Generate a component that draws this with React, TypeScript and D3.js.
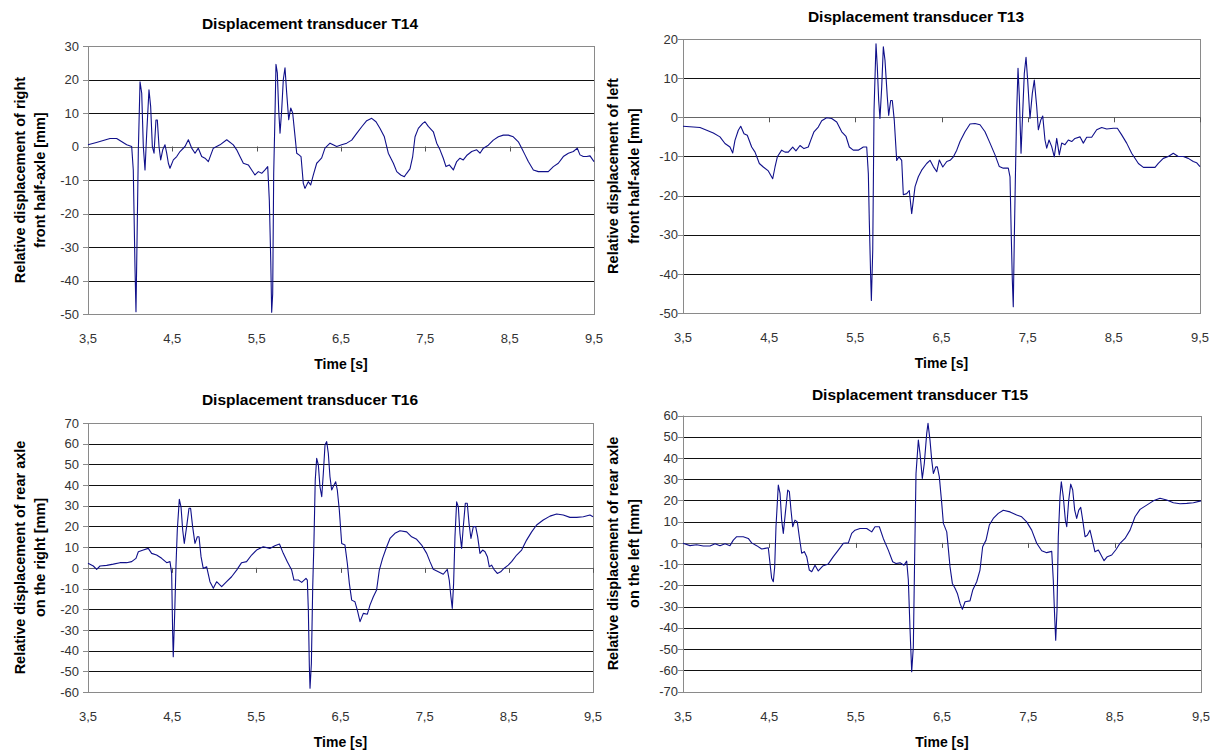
import React from 'react';
import * as d3 from 'd3';

// time axis shared by all four panels
const xTicks = [3.5, 4.5, 5.5, 6.5, 7.5, 8.5, 9.5];

const t14Ticks = [30, 20, 10, 0, -10, -20, -30, -40, -50];
const t13Ticks = [20, 10, 0, -10, -20, -30, -40, -50];
const t16Ticks = [70, 60, 50, 40, 30, 20, 10, 0, -10, -20, -30, -40, -50, -60];
const t15Ticks = [60, 50, 40, 30, 20, 10, 0, -10, -20, -30, -40, -50, -60, -70];

// [time s, displacement mm]
const t14: [number, number][] = [
  [3.5, 0.5], [3.6, 1.2], [3.761, 2.4], [3.84, 2.4], [3.959, 0.5], [4.018, 0], [4.037, -7], [4.057, -35.9],
  [4.069, -49.3], [4.085, -21.9], [4.097, -1], [4.117, 19.3], [4.137, 15.9], [4.156, 0], [4.176, -7],
  [4.196, 3.9], [4.223, 16.9], [4.243, 11.9], [4.263, 0], [4.283, -2], [4.306, 7.9], [4.322, 7.9],
  [4.342, 0], [4.362, -4], [4.386, -1], [4.413, 0.5], [4.433, -2], [4.453, -5], [4.472, -6.5],
  [4.512, -4], [4.552, -3], [4.591, -1.5], [4.65, 0], [4.69, 2], [4.73, -0.5], [4.769, -2], [4.808, -0.5],
  [4.848, -3], [4.887, -3.5], [4.927, -4.5], [4.986, -0.5], [5.065, 0.5], [5.145, 2], [5.223, 0.5],
  [5.263, -1], [5.302, -3], [5.342, -5], [5.401, -5.5], [5.441, -7], [5.48, -8.5], [5.52, -7.5],
  [5.56, -8], [5.599, -7], [5.631, -6], [5.65, -16], [5.667, -34], [5.678, -49.5], [5.69, -44],
  [5.702, -8], [5.717, 9], [5.729, 24.5], [5.745, 22], [5.761, 11], [5.777, 4], [5.797, 11], [5.816, 20],
  [5.836, 23.5], [5.856, 16], [5.88, 8], [5.904, 11.5], [5.927, 10], [5.951, 4], [5.975, -2],
  [6.002, -2.5], [6.026, -3], [6.053, -11], [6.073, -12.5], [6.112, -10.5], [6.14, -11.5], [6.172, -8.5],
  [6.212, -5], [6.231, -4.5], [6.271, -3.4], [6.31, -0.5], [6.37, 1], [6.449, 0], [6.508, 0.5],
  [6.568, 1], [6.627, 1.9], [6.686, 3.9], [6.746, 5.9], [6.805, 7.7], [6.864, 8.4], [6.915, 7.4],
  [6.963, 5.4], [7.014, 2.9], [7.061, -2], [7.121, -5], [7.161, -7.5], [7.208, -8.5], [7.251, -9],
  [7.279, -8], [7.318, -6.7], [7.35, -3], [7.378, 2.9], [7.417, 5.4], [7.469, 6.9], [7.496, 7.4],
  [7.535, 6], [7.595, 4.4], [7.635, 1], [7.674, -1], [7.713, -3.5], [7.745, -6], [7.784, -5.5],
  [7.832, -7], [7.872, -4.5], [7.911, -3.5], [7.95, -4], [7.99, -2.7], [8.05, -1.5], [8.109, -1],
  [8.148, -2], [8.188, -0.5], [8.247, 0.4], [8.306, 1.9], [8.366, 2.9], [8.425, 3.4], [8.484, 3.4],
  [8.543, 2.9], [8.603, 1.4], [8.643, -0.5], [8.682, -2.5], [8.721, -4.5], [8.781, -7], [8.84, -7.5],
  [8.899, -7.5], [8.958, -7.5], [9.018, -6], [9.077, -5], [9.136, -3], [9.196, -2], [9.255, -1.5],
  [9.302, -0.5], [9.334, -2.5], [9.373, -3], [9.413, -3], [9.453, -2.8], [9.5, -4.5],
];

const t13: [number, number][] = [
  [3.5, -2.3], [3.62, -2.5], [3.697, -2.6], [3.775, -3.3], [3.852, -4], [3.929, -5], [3.987, -6.7],
  [4.045, -7.6], [4.077, -9.1], [4.103, -5.9], [4.142, -3.3], [4.17, -2.3], [4.208, -4.2], [4.246, -4.6],
  [4.297, -7.6], [4.336, -8.9], [4.386, -11.8], [4.432, -12.7], [4.49, -13.7], [4.541, -15.7],
  [4.568, -12.7], [4.595, -10.1], [4.645, -8.4], [4.684, -8.9], [4.722, -8.9], [4.773, -7.6],
  [4.811, -8.6], [4.858, -7.2], [4.904, -8], [4.954, -7.6], [4.982, -5.9], [5.02, -3.7], [5.07, -2.5],
  [5.11, -0.9], [5.167, -0.1], [5.226, -0.3], [5.284, -1.2], [5.342, -3.7], [5.392, -4.9], [5.43, -7.6],
  [5.476, -8.4], [5.534, -8.4], [5.593, -7.6], [5.632, -7.6], [5.651, -14.4], [5.662, -26.3],
  [5.678, -40.8], [5.686, -46.8], [5.702, -34], [5.717, 1.8], [5.74, 18.8], [5.755, 12.9], [5.771, 4.3],
  [5.786, -0.3], [5.806, 7.7], [5.825, 18], [5.844, 14.6], [5.871, 5.2], [5.887, 0.5], [5.91, 4.3],
  [5.929, 4.3], [5.952, -0.8], [5.98, -11], [6.007, -10.1], [6.038, -11], [6.057, -19.8], [6.096, -19.5],
  [6.126, -18.7], [6.154, -24.6], [6.193, -17.7], [6.231, -15.2], [6.27, -13.5], [6.328, -11.8],
  [6.367, -11], [6.405, -12.6], [6.445, -13.9], [6.475, -10.9], [6.515, -12.7], [6.561, -11.3],
  [6.6, -11], [6.638, -10.1], [6.677, -8.4], [6.715, -6.2], [6.773, -3.7], [6.831, -1.7], [6.889, -1.6],
  [6.947, -1.9], [7.005, -3.7], [7.063, -6.6], [7.121, -9.6], [7.171, -12.6], [7.217, -13],
  [7.275, -13], [7.295, -15.2], [7.31, -30.5], [7.322, -41.6], [7.333, -48.4], [7.345, -31],
  [7.357, -16], [7.372, 1], [7.388, 12.5], [7.403, 5.3], [7.423, -9.2], [7.442, 1], [7.461, 11.2],
  [7.481, 15.3], [7.5, 9.5], [7.527, -0.3], [7.554, 6.1], [7.577, 9.5], [7.605, 2.7], [7.624, -3.2],
  [7.652, -0.7], [7.675, 0.3], [7.701, -5.8], [7.721, -7.9], [7.748, -5.8], [7.779, -7.5], [7.809, -10.1],
  [7.837, -5.4], [7.867, -9.6], [7.895, -6.6], [7.933, -7], [7.972, -5.8], [8.011, -6.2], [8.049, -5.4],
  [8.107, -5], [8.146, -6.6], [8.185, -5.1], [8.243, -5.1], [8.301, -3.2], [8.359, -2.6], [8.417, -3],
  [8.494, -2.8], [8.541, -2.8], [8.591, -4.5], [8.649, -6.6], [8.707, -9.2], [8.785, -11.8],
  [8.843, -12.8], [8.92, -12.8], [8.978, -12.8], [9.016, -11.8], [9.074, -10.5], [9.132, -10],
  [9.19, -9.2], [9.248, -10], [9.306, -10], [9.364, -10.5], [9.422, -11.3], [9.46, -11.6], [9.5, -12.6],
];

const t16: [number, number][] = [
  [3.5, 2.2], [3.563, 0.9], [3.603, -0.7], [3.643, 0.9], [3.722, 1.2], [3.8, 1.8], [3.88, 2.5],
  [3.959, 2.5], [4.019, 3], [4.07, 4.6], [4.098, 7.8], [4.157, 8.6], [4.216, 9.4], [4.256, 7],
  [4.315, 6.2], [4.375, 4.6], [4.435, 2.5], [4.474, 3], [4.494, -2.7], [4.506, -31.7], [4.513, -43],
  [4.53, -22], [4.545, 0.5], [4.561, 18.3], [4.585, 33.1], [4.605, 29.5], [4.625, 18.3], [4.644, 11.8],
  [4.672, 19.9], [4.7, 28.8], [4.719, 28.8], [4.743, 19.9], [4.771, 11.8], [4.799, 15], [4.819, 15],
  [4.843, 5.4], [4.869, -0.3], [4.91, 0.5], [4.949, -6.7], [4.989, -9.9], [5.028, -6.7], [5.088, -9.1],
  [5.147, -6.7], [5.206, -4.3], [5.266, -1.1], [5.325, 2.5], [5.384, 3], [5.444, 6.2], [5.503, 8.6],
  [5.582, 10.2], [5.661, 9.4], [5.72, 10.7], [5.775, 11.5], [5.82, 7], [5.868, 3], [5.92, -1.1],
  [5.947, -5.9], [5.999, -5.9], [6.039, -7], [6.09, -5.1], [6.106, -5.9], [6.118, -20.4], [6.13, -47.8],
  [6.138, -58.2], [6.154, -46.2], [6.17, -9.1], [6.185, 13.4], [6.2, 42.4], [6.217, 52.9], [6.237, 49.7],
  [6.256, 39.2], [6.277, 34.4], [6.296, 45.7], [6.316, 59.4], [6.336, 61], [6.355, 55.4], [6.375, 44],
  [6.395, 37.6], [6.423, 40], [6.443, 41.6], [6.462, 37.6], [6.486, 27.9], [6.514, 11.8], [6.553, 11],
  [6.581, 2.2], [6.605, -7.5], [6.633, -15.6], [6.672, -16.4], [6.7, -20.4], [6.732, -26], [6.771, -22],
  [6.819, -22.4], [6.85, -18], [6.89, -14], [6.929, -10.7], [6.961, -1.1], [7.0, 4.6], [7.049, 10.2],
  [7.088, 14.2], [7.147, 16.7], [7.207, 17.9], [7.286, 17.4], [7.345, 15], [7.405, 13.8], [7.464, 11],
  [7.524, 7], [7.563, 3], [7.602, -0.7], [7.662, -1.9], [7.721, -3.1], [7.769, -0.7], [7.792, -5.9],
  [7.812, -14], [7.828, -19.6], [7.844, -7.5], [7.86, 15], [7.88, 31.9], [7.9, 29.5], [7.919, 16.7],
  [7.939, 9.4], [7.959, 19.9], [7.983, 31.2], [8.006, 31.2], [8.027, 21.5], [8.05, 14.2], [8.078, 19.9],
  [8.106, 19.9], [8.13, 15], [8.157, 7], [8.189, 8.6], [8.217, 7.8], [8.245, 5.4], [8.268, 0.5],
  [8.296, 1.3], [8.323, -0.7], [8.363, -2.7], [8.403, -1.9], [8.442, -0.3], [8.493, 1.3], [8.533, 3],
  [8.593, 6.2], [8.652, 8.6], [8.711, 13.4], [8.771, 17.4], [8.83, 20.7], [8.909, 23.1], [8.989, 25],
  [9.068, 26], [9.147, 25.5], [9.226, 24.4], [9.306, 24.4], [9.385, 24.7], [9.464, 25.5], [9.5, 24.7],
];

const t15: [number, number][] = [
  [3.5, -0.2], [3.581, -1.3], [3.658, -0.9], [3.735, -1.5], [3.813, -1.5], [3.871, -0.4], [3.929, -1.3],
  [3.987, -0.4], [4.044, -1.3], [4.083, 1.3], [4.122, 2.9], [4.198, 2.9], [4.256, 2.1], [4.295, 0],
  [4.353, -1.3], [4.411, -2.9], [4.45, -2.6], [4.488, -2.3], [4.508, -9.7], [4.527, -16.7],
  [4.546, -18.3], [4.562, -11.4], [4.577, 7.6], [4.604, 27.2], [4.624, 23.3], [4.643, 10.7], [4.662, 4.5],
  [4.685, 13.9], [4.713, 24.9], [4.732, 24.1], [4.751, 15.4], [4.771, 7.6], [4.797, 10.7], [4.824, 9.9],
  [4.847, 2.9], [4.875, -4.9], [4.905, -4.1], [4.933, -6.5], [4.963, -12.8], [4.991, -13.6],
  [5.029, -10.5], [5.067, -13.2], [5.118, -10.9], [5.183, -9.9], [5.241, -6.5], [5.299, -3.4],
  [5.357, -0.2], [5.415, 0], [5.454, 4.5], [5.492, 6], [5.55, 6.8], [5.628, 6.8], [5.686, 5.2],
  [5.724, 7.6], [5.774, 7.6], [5.82, 2.1], [5.878, -3.4], [5.929, -8.9], [5.967, -9.7], [6.014, -9.4],
  [6.06, -10.5], [6.091, -8.6], [6.11, -17.5], [6.13, -41], [6.149, -60.7], [6.168, -48.9],
  [6.184, -4.9], [6.199, 32.7], [6.226, 48.4], [6.245, 42.2], [6.272, 30.4], [6.295, 37.4], [6.323, 51.6],
  [6.338, 56.3], [6.361, 48.4], [6.381, 39], [6.4, 32.7], [6.428, 35.8], [6.446, 35.8], [6.469, 31.1],
  [6.497, 18.6], [6.516, 9.2], [6.555, 5.2], [6.575, -3.4], [6.593, -11.3], [6.62, -19.1],
  [6.651, -21.4], [6.678, -23.8], [6.709, -28.5], [6.736, -31.3], [6.767, -27.7], [6.824, -27.3],
  [6.856, -22.2], [6.902, -18.3], [6.94, -12.8], [6.971, -1.8], [7.01, 1.3], [7.048, 8.4], [7.094, 11.5],
  [7.152, 13.9], [7.21, 15.4], [7.288, 14.6], [7.365, 13.1], [7.423, 12.3], [7.481, 9.9], [7.539, 6],
  [7.597, -0.2], [7.655, -3.7], [7.713, -4.6], [7.771, -4], [7.789, -17.5], [7.805, -34.8],
  [7.817, -45.8], [7.832, -31.7], [7.847, 2.9], [7.867, 21.7], [7.882, 28.8], [7.905, 21.7],
  [7.929, 10.7], [7.945, 7.6], [7.968, 20.2], [7.991, 27.7], [8.014, 24.9], [8.037, 15.4], [8.06, 11.5],
  [8.084, 15.4], [8.107, 16.7], [8.13, 10.7], [8.157, 2.9], [8.183, 3.6], [8.214, 6], [8.241, 1.3],
  [8.272, -4.2], [8.311, -3.4], [8.342, -5.7], [8.377, -8.4], [8.415, -6.5], [8.466, -5.7],
  [8.516, -3.1], [8.562, -0.2], [8.62, 2.1], [8.678, 6], [8.736, 12.3], [8.794, 15.8], [8.871, 17.8],
  [8.948, 19.8], [9.025, 21], [9.103, 20.2], [9.18, 18.9], [9.257, 18.4], [9.335, 18.6], [9.412, 18.9],
  [9.5, 19.8],
];

type Panel = {
  title: string;
  yTitle: [string, string];
  data: [number, number][];
  yTicks: number[];
  left: number; right: number; top: number; bottom: number;
  titleX: number; titleY: number;
  yTitleX: [number, number];
  labelGap: number;
};

const panels: Panel[] = [
  {
    title: 'Displacement transducer T14', yTitle: ['Relative displacement of right', 'front half-axle [mm]'],
    data: t14, yTicks: t14Ticks, left: 88, right: 594, top: 46, bottom: 314,
    titleX: 310, titleY: 29, yTitleX: [19.5, 40], labelGap: 9,
  },
  {
    title: 'Displacement transducer T13', yTitle: ['Relative displacement of left', 'front half-axle [mm]'],
    data: t13, yTicks: t13Ticks, left: 683, right: 1200, top: 39, bottom: 313,
    titleX: 916, titleY: 21.5, yTitleX: [613, 634], labelGap: 5,
  },
  {
    title: 'Displacement transducer T16', yTitle: ['Relative displacement of rear axle', 'on the right [mm]'],
    data: t16, yTicks: t16Ticks, left: 88, right: 593, top: 423, bottom: 692,
    titleX: 310, titleY: 405, yTitleX: [19.5, 40], labelGap: 9,
  },
  {
    title: 'Displacement transducer T15', yTitle: ['Relative displacement of rear axle', 'on the left [mm]'],
    data: t15, yTicks: t15Ticks, left: 683, right: 1201, top: 415.5, bottom: 691.5,
    titleX: 920, titleY: 400, yTitleX: [613, 634], labelGap: 5,
  },
];

const FONT = '"Liberation Sans", Arial, sans-serif';
const fmt = (d: number) => d.toFixed(1).replace('.', ',');

function Chart({ p }: { p: Panel }) {
  const yMax = d3.max(p.yTicks) as number;
  const yMin = d3.min(p.yTicks) as number;
  const x = d3.scaleLinear().domain([3.5, 9.5]).range([p.left, p.right]);
  const y = d3.scaleLinear().domain([yMin, yMax]).range([p.bottom, p.top]);
  const line = d3.line<[number, number]>().x(d => x(d[0])).y(d => y(d[1]));
  const yMid = (p.top + p.bottom) / 2;
  const px = (v: number) => Math.round(v) + 0.5;

  return (
    <g fontFamily={FONT}>
      <text x={p.titleX} y={p.titleY} textAnchor="middle" fontSize={15.5} fontWeight="bold" fill="#000">
        {p.title}
      </text>

      {/* horizontal grid */}
      {p.yTicks.filter(v => v !== yMax && v !== 0).map(v => (
        <line key={v} x1={p.left} x2={p.right} y1={px(y(v))} y2={px(y(v))} stroke="#111" strokeWidth={1} />
      ))}
      <rect x={p.left + 0.5} y={px(p.top)} width={p.right - p.left} height={Math.round(p.bottom) - Math.round(p.top)}
        fill="none" stroke="#8a8a8a" strokeWidth={1} />

      {/* x axis sits on zero */}
      <line x1={p.left} x2={p.right} y1={px(y(0))} y2={px(y(0))} stroke="#666" />
      {xTicks.map(t => (
        <line key={t} x1={px(x(t))} x2={px(x(t))} y1={y(0)} y2={y(0) + 5} stroke="#555" />
      ))}

      {/* y axis */}
      <line x1={p.left + 0.5} x2={p.left + 0.5} y1={p.top} y2={p.bottom} stroke="#8a8a8a" />
      {p.yTicks.map(v => (
        <g key={v}>
          <line x1={p.left - 5} x2={p.left} y1={px(y(v))} y2={px(y(v))} stroke="#8a8a8a" />
          <text x={p.left - p.labelGap} y={y(v)} dy="0.36em" textAnchor="end" fontSize={13} fill="#333">
            {v}
          </text>
        </g>
      ))}

      {xTicks.map(t => (
        <text key={t} x={x(t)} y={p.bottom + 29} textAnchor="middle" fontSize={13} fill="#333">
          {fmt(t)}
        </text>
      ))}
      <text x={(p.left + p.right) / 2} y={p.bottom + 55} textAnchor="middle" fontSize={14} fontWeight="bold" fill="#000">
        Time [s]
      </text>

      {p.yTitle.map((s, i) => (
        <text key={i} transform={`translate(${p.yTitleX[i]},${yMid}) rotate(-90)`} textAnchor="middle"
          dominantBaseline="central" fontSize={14.5} fontWeight="bold" fill="#000">
          {s}
        </text>
      ))}

      <path d={line(p.data) ?? ''} fill="none" stroke="#10108a" strokeWidth={1.1} strokeLinejoin="round" />
    </g>
  );
}

export default function App() {
  return (
    <div style={{ position: 'absolute', left: 0, top: 0 }}>
      <svg width={1219} height={751} style={{ display: 'block', background: '#fff' }}>
        {panels.map(p => <Chart key={p.title} p={p} />)}
      </svg>
    </div>
  );
}
